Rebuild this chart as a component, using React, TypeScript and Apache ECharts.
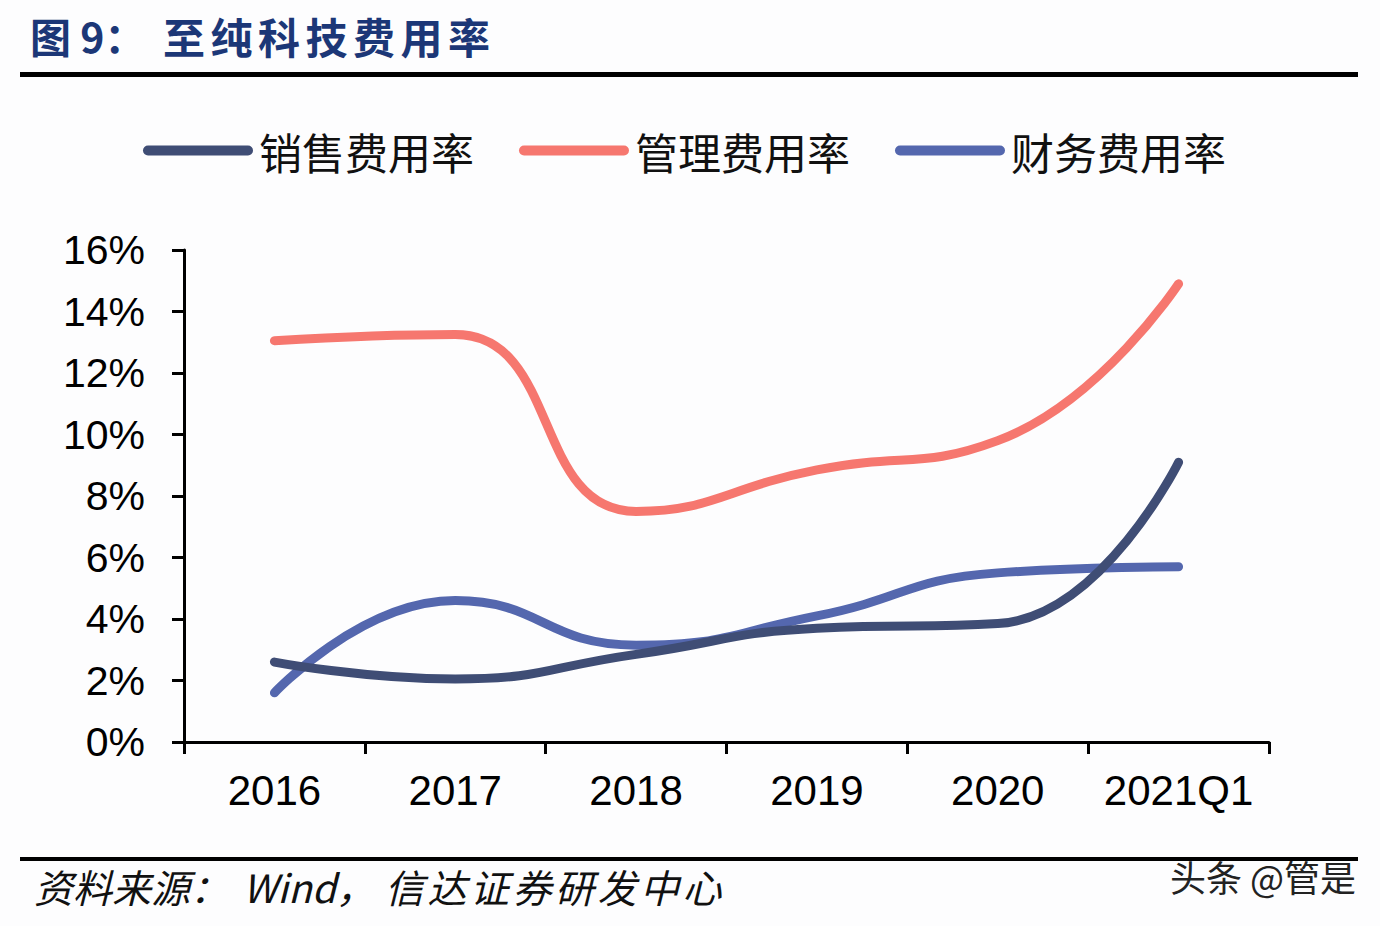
import { useEffect, useRef } from 'react'
import * as echarts from 'echarts'

const categories = ['2016', '2017', '2018', '2019', '2020', '2021Q1']
const salesRate = [2.6, 2.05, 2.85, 3.7, 3.85, 9.1]
const adminRate = [13.05, 13.25, 7.5, 8.85, 9.8, 14.9]
const financeRate = [1.6, 4.6, 3.15, 4.1, 5.5, 5.7]
const seriesNames = ['销售费用率', '管理费用率', '财务费用率']
const seriesColors = ['#3F4D75', '#F6776F', '#5467AE']

const titleChars = '至纯科技费用率'.split('')
const sourceChars = '信达证券研发中心'.split('')

const cjk = '"Noto Sans CJK SC", sans-serif'
const legendIcon = 'path://M5,0 L105,0 A5,5 0 0 1 105,10 L5,10 A5,5 0 0 1 5,0 Z'

export default function App() {
  const chartRef = useRef<HTMLDivElement>(null)

  useEffect(() => {
    if (!chartRef.current) return
    const chart = echarts.init(chartRef.current, undefined, { renderer: 'svg' })

    const lineSeries = [salesRate, adminRate, financeRate].map((data, i) => ({
      name: seriesNames[i],
      type: 'line' as const,
      data,
      smooth: 0.5,
      showSymbol: false,
      symbol: 'none',
      z: i === 0 ? 3 : 2,
      lineStyle: { width: 9, color: seriesColors[i], cap: 'round' as const, join: 'round' as const },
      itemStyle: { color: seriesColors[i] },
    }))

    // title: the original has wide letter spacing, so chars are placed one by one
    const titleText: any[] = [
      {
        type: 'text',
        left: 30,
        top: 14,
        style: { text: '图 9：', fontSize: 41, fontWeight: 'bold', fill: '#1C3777', fontFamily: cjk },
      },
      ...titleChars.map((ch, i) => ({
        type: 'text',
        left: 163 + i * 47.5,
        top: 14,
        style: { text: ch, fontSize: 42, fontWeight: 'bold', fill: '#1C3777', fontFamily: cjk },
      })),
    ]

    const sourceText: any[] = [
      {
        type: 'text',
        left: 34,
        top: 866,
        style: { text: '资料来源：', fontSize: 39, fontStyle: 'italic', fill: '#111', fontFamily: cjk },
      },
      {
        type: 'text',
        left: 243,
        top: 866,
        style: { text: 'Wind，', fontSize: 39, fontStyle: 'italic', fill: '#111', fontFamily: cjk },
      },
      ...sourceChars.map((ch, i) => ({
        type: 'text',
        left: 385 + i * 42.5,
        top: 866,
        style: { text: ch, fontSize: 39, fontStyle: 'italic', fill: '#111', fontFamily: cjk },
      })),
    ]

    const option: echarts.EChartsOption = {
      animation: false,
      backgroundColor: '#FDFDFE',
      textStyle: { fontFamily: '"Liberation Sans", Arial, sans-serif' },
      graphic: [
        ...titleText,
        {
          type: 'rect',
          shape: { x: 20, y: 72, width: 1338, height: 5 },
          style: { fill: '#000' },
        },
        {
          type: 'rect',
          shape: { x: 20, y: 857, width: 1338, height: 4 },
          style: { fill: '#000' },
        },
        ...sourceText,
        {
          type: 'text',
          left: 1170,
          top: 858,
          style: { text: '头条 @管是', fontSize: 36, fill: '#222', fontFamily: cjk },
        },
      ],
      legend: {
        left: 138,
        top: 124,
        itemWidth: 112,
        itemHeight: 10,
        itemGap: 45,
        icon: legendIcon,
        textStyle: {
          fontSize: 43,
          color: '#111',
          fontFamily: cjk,
        },
        data: seriesNames,
      },
      grid: { left: 184, right: 111, top: 250, bottom: 184 },
      xAxis: {
        type: 'category',
        data: categories,
        axisLine: { lineStyle: { color: '#000', width: 3 } },
        axisTick: { show: true, length: 12, lineStyle: { color: '#000', width: 3 } },
        axisLabel: { fontSize: 42, color: '#000', margin: 27, interval: 0 },
      },
      yAxis: {
        type: 'value',
        min: 0,
        max: 16,
        interval: 2,
        splitLine: { show: false },
        axisLine: { show: true, lineStyle: { color: '#000', width: 3 } },
        axisTick: { show: true, length: 12, lineStyle: { color: '#000', width: 3 } },
        axisLabel: { fontSize: 41, color: '#000', margin: 39, formatter: '{value}%' },
      },
      series: lineSeries,
    }

    chart.setOption(option)
    return () => {
      chart.dispose()
    }
  }, [])

  return (
    <div
      ref={chartRef}
      style={{ position: 'absolute', left: 0, top: 0, width: '1380px', height: '926px' }}
    />
  )
}
